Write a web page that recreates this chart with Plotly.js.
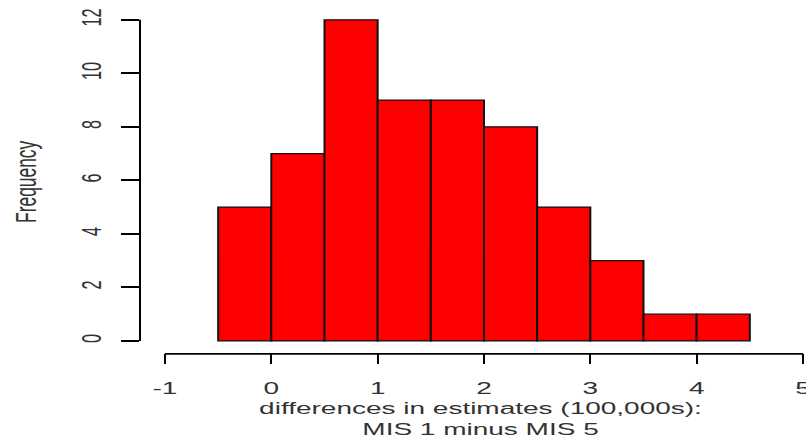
<!DOCTYPE html>
<html>
<head>
<meta charset="utf-8">
<script src="https://cdn.plot.ly/plotly-3.0.1.min.js"></script>
<style>
html,body{margin:0;padding:0;background:#fff;overflow:hidden;}
#wrap{width:806px;height:438px;overflow:hidden;position:relative;}
/* The reference image is squashed vertically; reproduce by drawing taller and scaling down */
#chart{width:806px;height:755px;transform:scale(1,0.58013);transform-origin:0 0;}
</style>
</head>
<body>
<div id="wrap"><div id="chart"></div></div>
<script>
// Histogram bins (midpoints, width 0.5) and their counts
const binMids = [-0.25, 0.25, 0.75, 1.25, 1.75, 2.25, 2.75, 3.25, 3.75, 4.25];
const counts  = [5, 7, 12, 9, 9, 8, 5, 3, 1, 1];
const binWidth = 0.5;
const xTicks = [-1, 0, 1, 2, 3, 4, 5];
const yTicks = [0, 2, 4, 6, 8, 10, 12];
const xTitle = 'differences in estimates (100,000s):<br>MIS 1 minus MIS 5';
const yTitle = 'Frequency';

const trace = {
  type: 'bar',
  x: binMids,
  y: counts,
  width: binMids.map(() => binWidth),
  marker: {color: '#ff0000', line: {color: '#111111', width: 2}},
  hoverinfo: 'x+y'
};

const fam = 'Liberation Sans, Arial, sans-serif';
const col = '#333';

const layout = {
  width: 806, height: 755,
  margin: {l: 140, r: 3, t: 17, b: 145},
  paper_bgcolor: '#fff', plot_bgcolor: '#fff',
  showlegend: false,
  bargap: 0,
  xaxis: {
    range: [-1.235, 5.0],
    tickvals: xTicks, ticktext: xTicks.map(String),
    ticks: 'outside', ticklen: 17, tickwidth: 2, tickcolor: '#000',
    showgrid: false, zeroline: false, showline: false,
    tickfont: {family: fam, size: 28, color: col},
    ticklabelstandoff: 17,
    ticklabeloverflow: 'allow'
  },
  yaxis: {
    range: [-0.486, 12.374],
    tickvals: yTicks, ticktext: yTicks.map(String),
    ticks: 'outside', ticklen: 18, tickwidth: 3.4, tickcolor: '#000',
    tickangle: -90,
    showgrid: false, zeroline: false, showline: false,
    tickfont: {family: fam, size: 28, color: col},
    ticklabelstandoff: 9,
    title: {text: yTitle, font: {family: fam, size: 30, color: col}, standoff: 30}
  },
  annotations: [
    {text: xTitle, xref: 'paper', yref: 'paper', x: 0.513, y: 0,
     xanchor: 'center', yanchor: 'middle', yshift: -112, showarrow: false,
     align: 'center', font: {family: fam, size: 28, color: col}}
  ],
  shapes: [
    {type: 'line', xref: 'x', yref: 'paper', x0: xTicks[0], x1: xTicks[xTicks.length-1], y0: 0, y1: 0,
     line: {color: '#000', width: 3.4}},
    {type: 'line', xref: 'paper', yref: 'y', x0: 0, x1: 0, y0: yTicks[0], y1: yTicks[yTicks.length-1],
     line: {color: '#000', width: 2}}
  ]
};

Plotly.newPlot('chart', [trace], layout, {displayModeBar: false, staticPlot: true});
</script>
</body>
</html>
